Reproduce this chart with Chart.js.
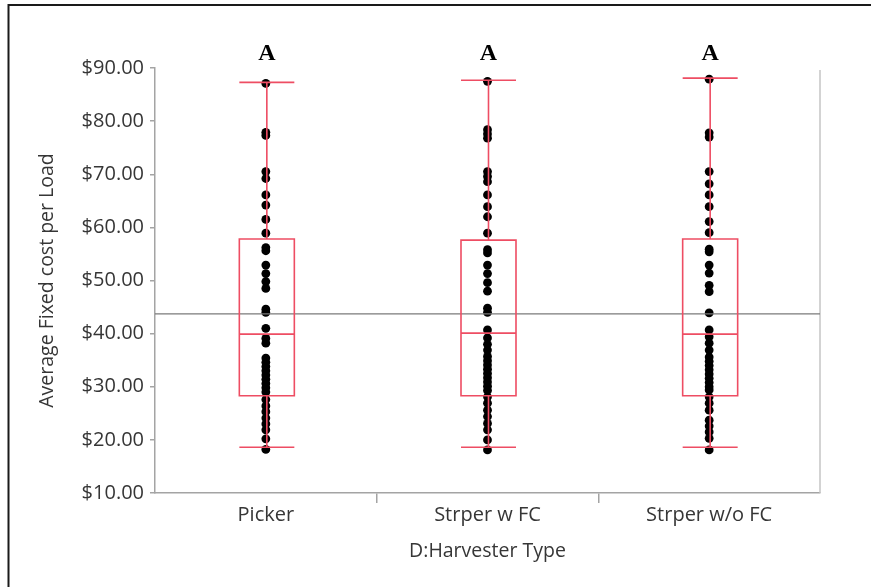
<!DOCTYPE html>
<html>
<head>
<meta charset="utf-8">
<title>Average Fixed cost per Load by Harvester Type</title>
<script src="https://cdn.jsdelivr.net/npm/chart.js@4.4.1/dist/chart.umd.min.js"></script>
<style>
  html, body { margin: 0; padding: 0; background: #fff; overflow: hidden; }
  canvas { display: block; }
</style>
</head>
<body>
<canvas id="chart" width="871" height="587"></canvas>
<script>
// Harvester types on the x axis
const categories = ['Picker', 'Strper w FC', 'Strper w/o FC'];

// Average fixed cost per load ($) for each observation, per harvester type
const pickerCosts = [87.1, 77.9, 77.3, 70.5, 69.2, 66.1, 64.2, 61.5, 58.9, 56.2, 55.6,
  52.9, 51.3, 49.8, 48.5, 44.6, 44.0, 41.0, 39.1, 38.2, 35.4, 34.6, 33.8, 33.0,
  32.2, 31.4, 30.6, 29.8, 29.0, 27.6, 26.4, 25.3, 24.1, 23.0, 21.9, 20.2, 18.2];
const stripperFcCosts = [87.5, 78.4, 77.6, 76.8, 70.5, 69.6, 68.6, 66.1, 63.9, 62.0,
  58.9, 55.8, 55.2, 52.9, 51.3, 49.6, 48.0, 44.8, 44.0, 40.7, 39.2, 38.0, 36.9,
  35.7, 34.9, 34.1, 33.3, 32.5, 31.7, 30.9, 30.1, 29.3, 28.1, 26.9, 25.6, 24.4,
  23.1, 21.9, 20.0, 18.1];
const stripperNoFcCosts = [87.9, 77.8, 77.0, 70.5, 68.2, 66.1, 63.9, 61.1, 59.0, 55.9,
  55.4, 52.9, 51.4, 49.1, 47.9, 43.9, 40.7, 39.4, 38.2, 36.9, 35.6, 34.8, 34.0,
  33.2, 32.4, 31.6, 30.8, 30.0, 29.4, 28.1, 26.9, 25.6, 23.7, 22.6, 21.5, 20.3, 18.1];

// Box-plot summary per harvester type
const whiskerLow  = [18.6, 18.6, 18.6];
const quartile1   = [28.3, 28.3, 28.3];
const medians     = [39.9, 40.1, 39.9];
const quartile3   = [57.8, 57.6, 57.8];
const whiskerHigh = [87.3, 87.7, 88.1];

// Grand mean across all harvester types
const grandMean = 43.7;

// Connecting-letters report
const groupLetters = ['A', 'A', 'A'];

// Y axis tick values
const yTicks = [10, 20, 30, 40, 50, 60, 70, 80, 90];

const groupCosts = [pickerCosts, stripperFcCosts, stripperNoFcCosts];
const points = [];
groupCosts.forEach((vals, i) => vals.forEach(v => points.push({ x: categories[i], y: v })));

const BOX_RED = '#ee4d63';
const AXIS_GREY = '#a4a4a4';
const TEXT = '#363636';
const SANS = "'Open Sans', 'Noto Sans', sans-serif";

// Outer frame, boxes, whiskers, grand-mean line and letters
const boxPlotDecor = {
  id: 'boxPlotDecor',
  beforeDraw(chart) {
    const ctx = chart.ctx;
    ctx.save();
    ctx.fillStyle = '#fff';
    ctx.fillRect(0, 0, chart.width, chart.height);
    ctx.strokeStyle = '#1a1a1a';
    ctx.lineWidth = 2;
    ctx.beginPath();
    ctx.moveTo(chart.width + 2, 5);
    ctx.lineTo(8.5, 5);
    ctx.lineTo(8.5, chart.height + 2);
    ctx.stroke();
    ctx.restore();
  },
  afterDatasetsDraw(chart) {
    const ctx = chart.ctx;
    const xs = chart.scales.x;
    const ys = chart.scales.y;
    const area = chart.chartArea;
    ctx.save();

    // right-hand frame of the plot
    ctx.strokeStyle = '#c4c4c4';
    ctx.lineWidth = 1.5;
    ctx.beginPath();
    ctx.moveTo(area.right, area.top + 2);
    ctx.lineTo(area.right, area.bottom);
    ctx.stroke();

    // grand mean line
    const ym = ys.getPixelForValue(grandMean);
    ctx.strokeStyle = '#7a7a7a';
    ctx.lineWidth = 1.2;
    ctx.beginPath();
    ctx.moveTo(area.left, ym);
    ctx.lineTo(area.right, ym);
    ctx.stroke();

    const halfW = 27.5;
    ctx.strokeStyle = BOX_RED;
    ctx.lineWidth = 1.6;
    categories.forEach((c, i) => {
      const xc = xs.getPixelForValue(i) + 1;
      const yLo = ys.getPixelForValue(whiskerLow[i]);
      const yQ1 = ys.getPixelForValue(quartile1[i]);
      const yMd = ys.getPixelForValue(medians[i]);
      const yQ3 = ys.getPixelForValue(quartile3[i]);
      const yHi = ys.getPixelForValue(whiskerHigh[i]);
      ctx.beginPath();
      ctx.rect(xc - halfW, yQ3, halfW * 2, yQ1 - yQ3);
      // median
      ctx.moveTo(xc - halfW, yMd);
      ctx.lineTo(xc + halfW, yMd);
      // whiskers
      ctx.moveTo(xc, yQ3);
      ctx.lineTo(xc, yHi);
      ctx.moveTo(xc, yQ1);
      ctx.lineTo(xc, yLo);
      // caps
      ctx.moveTo(xc - halfW, yHi);
      ctx.lineTo(xc + halfW, yHi);
      ctx.moveTo(xc - halfW, yLo);
      ctx.lineTo(xc + halfW, yLo);
      ctx.stroke();
    });

    // letters above each group
    ctx.fillStyle = '#000';
    ctx.font = "bold 24px 'Liberation Serif', 'DejaVu Serif', serif";
    ctx.textAlign = 'center';
    ctx.textBaseline = 'alphabetic';
    groupLetters.forEach((t, i) => {
      ctx.fillText(t, xs.getPixelForValue(i) + 1, 60);
    });
    ctx.restore();
  }
};

new Chart(document.getElementById('chart'), {
  type: 'scatter',
  data: {
    labels: categories,
    datasets: [{
      data: points,
      pointRadius: 4.4,
      pointHoverRadius: 4.4,
      pointBackgroundColor: '#000',
      pointBorderWidth: 0
    }]
  },
  options: {
    responsive: false,
    animation: false,
    events: [],
    layout: { padding: { top: 68, right: 51, left: 0, bottom: 0 } },
    plugins: { legend: { display: false }, tooltip: { enabled: false } },
    scales: {
      x: {
        type: 'category',
        labels: categories,
        offset: true,
        grid: {
          offset: true,
          drawOnChartArea: false,
          drawTicks: true,
          tickLength: 10,
          lineWidth: 1.5,
          color: ctx => (ctx.type === 'tick' && ctx.index > 0) ? AXIS_GREY : 'rgba(0,0,0,0)'
        },
        border: { display: true, color: AXIS_GREY, width: 1.5 },
        ticks: { font: { family: SANS, size: 20 }, color: TEXT, padding: 0 },
        title: {
          display: true,
          text: 'D:Harvester Type',
          font: { family: SANS, size: 19.5 },
          color: TEXT,
          padding: { top: 0, bottom: 24 }
        },
        afterFit: s => { s.height = 94; }
      },
      y: {
        min: 10,
        max: 90,
        afterBuildTicks: s => { s.ticks = yTicks.map(v => ({ value: v })); },
        ticks: {
          font: { family: SANS, size: 20 },
          color: TEXT,
          padding: 6,
          callback: v => '$' + Number(v).toFixed(2)
        },
        grid: { drawOnChartArea: false, drawTicks: true, tickLength: 5, color: AXIS_GREY, lineWidth: 1.5 },
        border: { display: true, color: AXIS_GREY, width: 1.5 },
        title: {
          display: true,
          text: 'Average Fixed cost per Load',
          font: { family: SANS, size: 19.5 },
          color: TEXT,
          padding: { top: 36, bottom: 0 }
        },
        afterFit: s => { s.width = 155; }
      }
    }
  },
  plugins: [boxPlotDecor]
});
</script>
</body>
</html>
